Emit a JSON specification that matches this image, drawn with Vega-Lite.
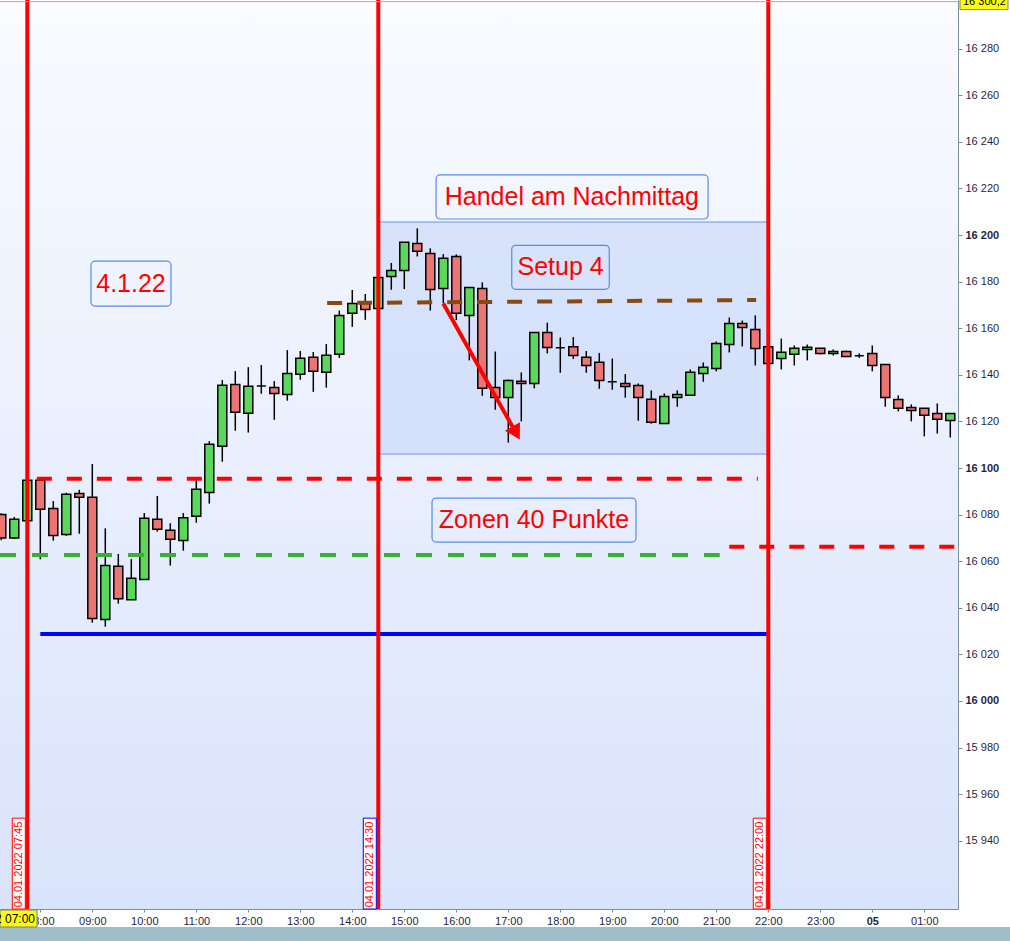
{
  "$schema": "https://vega.github.io/schema/vega-lite/v6.json",
  "description": "DAX 15-minute candles 04.01.2022 with afternoon trading setup annotations",
  "width": 958,
  "height": 909,
  "autosize": {"type": "none"},
  "padding": {"left": 0, "top": 0, "right": 52, "bottom": 32},
  "background": "#ffffff",
  "config": {"view": {"stroke": null}, "font": "Liberation Sans"},
  "resolve": {"axis": {"x": "independent", "y": "independent"}},
  "datasets": {
    "frame": [
      {"t1": "2022-01-04T07:13:30", "t2": "2022-01-05T01:38:54", "p1": 15910.7, "p2": 16300.9}
    ],
    "session": [
      {"t1": "2022-01-04T14:30", "t2": "2022-01-04T22:00", "p1": 16106, "p2": 16205.6}
    ],
    "candles": [
      {"t": "2022-01-04T07:15", "o": 16080, "h": 16080.5, "l": 16069, "c": 16070},
      {"t": "2022-01-04T07:30", "o": 16070, "h": 16079, "l": 16069.5, "c": 16078},
      {"t": "2022-01-04T07:45", "o": 16077.4, "h": 16095.5, "l": 16076.5, "c": 16094.7},
      {"t": "2022-01-04T08:00", "o": 16094.7, "h": 16095.3, "l": 16060.8, "c": 16082.3},
      {"t": "2022-01-04T08:15", "o": 16082.6, "h": 16085.8, "l": 16068.8, "c": 16071},
      {"t": "2022-01-04T08:30", "o": 16071.5, "h": 16089.4, "l": 16070.9, "c": 16088.7},
      {"t": "2022-01-04T08:45", "o": 16089.1, "h": 16090.6, "l": 16071.8, "c": 16087.4},
      {"t": "2022-01-04T09:00", "o": 16087.4, "h": 16101.7, "l": 16033.6, "c": 16035.4},
      {"t": "2022-01-04T09:15", "o": 16035, "h": 16074.1, "l": 16031.9, "c": 16058.2},
      {"t": "2022-01-04T09:30", "o": 16057.8, "h": 16063.1, "l": 16041.8, "c": 16043.9},
      {"t": "2022-01-04T09:45", "o": 16043.5, "h": 16060.9, "l": 16043.5, "c": 16052.7},
      {"t": "2022-01-04T10:00", "o": 16052.1, "h": 16080.7, "l": 16052.1, "c": 16078.4},
      {"t": "2022-01-04T10:15", "o": 16078, "h": 16088, "l": 16072.7, "c": 16073.7},
      {"t": "2022-01-04T10:30", "o": 16073.3, "h": 16076.3, "l": 16058.1, "c": 16069.4},
      {"t": "2022-01-04T10:45", "o": 16068.9, "h": 16080.7, "l": 16064.5, "c": 16078.7},
      {"t": "2022-01-04T11:00", "o": 16079.3, "h": 16096.1, "l": 16076.5, "c": 16090.9},
      {"t": "2022-01-04T11:15", "o": 16089.5, "h": 16111.5, "l": 16084.7, "c": 16110.2},
      {"t": "2022-01-04T11:30", "o": 16109.3, "h": 16137.8, "l": 16102.7, "c": 16135.5},
      {"t": "2022-01-04T11:45", "o": 16135.9, "h": 16141.6, "l": 16116, "c": 16123.9},
      {"t": "2022-01-04T12:00", "o": 16123.5, "h": 16143.3, "l": 16115.2, "c": 16135.1},
      {"t": "2022-01-04T12:15", "o": 16135.2, "h": 16144.2, "l": 16131.9, "c": 16135.2},
      {"t": "2022-01-04T12:30", "o": 16134.6, "h": 16137.3, "l": 16120.7, "c": 16132},
      {"t": "2022-01-04T12:45", "o": 16131.6, "h": 16150.6, "l": 16128.9, "c": 16140.6},
      {"t": "2022-01-04T13:00", "o": 16140.2, "h": 16150.2, "l": 16137.9, "c": 16147.1},
      {"t": "2022-01-04T13:15", "o": 16147.5, "h": 16149.8, "l": 16132.7, "c": 16141.5},
      {"t": "2022-01-04T13:30", "o": 16141.1, "h": 16153.2, "l": 16134.5, "c": 16148.4},
      {"t": "2022-01-04T13:45", "o": 16148.8, "h": 16167.6, "l": 16147.3, "c": 16165.5},
      {"t": "2022-01-04T14:00", "o": 16166.4, "h": 16176.4, "l": 16160.6, "c": 16170.6},
      {"t": "2022-01-04T14:15", "o": 16170.6, "h": 16174.7, "l": 16163.6, "c": 16168},
      {"t": "2022-01-04T14:30", "o": 16168.5, "h": 16182, "l": 16168, "c": 16181.8},
      {"t": "2022-01-04T14:45", "o": 16182.2, "h": 16188, "l": 16176.5, "c": 16184.8},
      {"t": "2022-01-04T15:00", "o": 16184.8, "h": 16196.9, "l": 16176.8, "c": 16196.9},
      {"t": "2022-01-04T15:15", "o": 16196.4, "h": 16202.9, "l": 16190.8, "c": 16193},
      {"t": "2022-01-04T15:30", "o": 16192.1, "h": 16194.3, "l": 16167.6, "c": 16176.6},
      {"t": "2022-01-04T15:45", "o": 16177.1, "h": 16191.8, "l": 16170.7, "c": 16190},
      {"t": "2022-01-04T16:00", "o": 16190.8, "h": 16191.7, "l": 16163.5, "c": 16166.4},
      {"t": "2022-01-04T16:15", "o": 16165.5, "h": 16177.5, "l": 16146.2, "c": 16177.5},
      {"t": "2022-01-04T16:30", "o": 16177.1, "h": 16179.7, "l": 16131, "c": 16134.2},
      {"t": "2022-01-04T16:45", "o": 16134.6, "h": 16150, "l": 16125, "c": 16130.3},
      {"t": "2022-01-04T17:00", "o": 16130.3, "h": 16138, "l": 16110.9, "c": 16137.6},
      {"t": "2022-01-04T17:15", "o": 16137.2, "h": 16141, "l": 16120, "c": 16136.3},
      {"t": "2022-01-04T17:30", "o": 16136.3, "h": 16158.2, "l": 16134.2, "c": 16158.2},
      {"t": "2022-01-04T17:45", "o": 16158.2, "h": 16162.4, "l": 16149.2, "c": 16151.7},
      {"t": "2022-01-04T18:00", "o": 16151.6, "h": 16156, "l": 16140.9, "c": 16151.6},
      {"t": "2022-01-04T18:15", "o": 16152.1, "h": 16156.2, "l": 16146.8, "c": 16148.3},
      {"t": "2022-01-04T18:30", "o": 16147.5, "h": 16150.2, "l": 16140.9, "c": 16144},
      {"t": "2022-01-04T18:45", "o": 16145.4, "h": 16149.4, "l": 16134, "c": 16137.6},
      {"t": "2022-01-04T19:00", "o": 16137, "h": 16147, "l": 16133.6, "c": 16137},
      {"t": "2022-01-04T19:15", "o": 16136.3, "h": 16140.3, "l": 16130.2, "c": 16135},
      {"t": "2022-01-04T19:30", "o": 16135.4, "h": 16136.3, "l": 16120.3, "c": 16130.3},
      {"t": "2022-01-04T19:45", "o": 16129.5, "h": 16133.3, "l": 16119, "c": 16119.6},
      {"t": "2022-01-04T20:00", "o": 16119.1, "h": 16132, "l": 16119.1, "c": 16130.7},
      {"t": "2022-01-04T20:15", "o": 16130.3, "h": 16133.3, "l": 16126.3, "c": 16131.6},
      {"t": "2022-01-04T20:30", "o": 16131.2, "h": 16142.3, "l": 16131.2, "c": 16141.1},
      {"t": "2022-01-04T20:45", "o": 16140.6, "h": 16145.3, "l": 16137, "c": 16143.2},
      {"t": "2022-01-04T21:00", "o": 16142.7, "h": 16154.3, "l": 16141.5, "c": 16153.4},
      {"t": "2022-01-04T21:15", "o": 16153, "h": 16164.6, "l": 16149.6, "c": 16162},
      {"t": "2022-01-04T21:30", "o": 16162, "h": 16163.3, "l": 16152.2, "c": 16160.3},
      {"t": "2022-01-04T21:45", "o": 16159.5, "h": 16165.5, "l": 16144, "c": 16151.3},
      {"t": "2022-01-04T22:00", "o": 16152.1, "h": 16152.1, "l": 16144.9, "c": 16144.9},
      {"t": "2022-01-04T22:15", "o": 16147, "h": 16155.6, "l": 16142.3, "c": 16149.7},
      {"t": "2022-01-04T22:30", "o": 16148.8, "h": 16152.6, "l": 16144, "c": 16151.4},
      {"t": "2022-01-04T22:45", "o": 16150.9, "h": 16153, "l": 16146.2, "c": 16151.8},
      {"t": "2022-01-04T23:00", "o": 16151.4, "h": 16151.4, "l": 16148.8, "c": 16149.2},
      {"t": "2022-01-04T23:15", "o": 16149.2, "h": 16150.9, "l": 16148.3, "c": 16150},
      {"t": "2022-01-04T23:30", "o": 16150, "h": 16150.4, "l": 16147.9, "c": 16147.9},
      {"t": "2022-01-04T23:45", "o": 16148.2, "h": 16149.2, "l": 16147.3, "c": 16148.2},
      {"t": "2022-01-05T00:00", "o": 16149.2, "h": 16152.6, "l": 16141.5, "c": 16144},
      {"t": "2022-01-05T00:15", "o": 16144.4, "h": 16144.4, "l": 16126.3, "c": 16130.3},
      {"t": "2022-01-05T00:30", "o": 16129.4, "h": 16131.2, "l": 16124.3, "c": 16125.6},
      {"t": "2022-01-05T00:45", "o": 16126, "h": 16127.3, "l": 16120, "c": 16124.7},
      {"t": "2022-01-05T01:00", "o": 16125.6, "h": 16125.6, "l": 16113.6, "c": 16122.6},
      {"t": "2022-01-05T01:15", "o": 16123.4, "h": 16127.7, "l": 16114.8, "c": 16120.9},
      {"t": "2022-01-05T01:30", "o": 16120.4, "h": 16123.4, "l": 16113.1, "c": 16123.4}
    ],
    "levels": [
      {"kind": "zone high", "t1": "2022-01-04T07:56", "t2": "2022-01-04T21:48", "p1": 16095.4, "p2": 16095.4},
      {"kind": "zone next", "t1": "2022-01-04T21:15", "t2": "2022-01-05T01:36", "p1": 16066.2, "p2": 16066.2},
      {"kind": "zone low", "t1": "2022-01-04T07:13:30", "t2": "2022-01-04T21:04", "p1": 16062.7, "p2": 16062.7},
      {"kind": "day low", "t1": "2022-01-04T08:00", "t2": "2022-01-04T22:00", "p1": 16028.8, "p2": 16028.8},
      {"kind": "setup", "t1": "2022-01-04T13:31", "t2": "2022-01-04T21:46", "p1": 16170.8, "p2": 16172.1}
    ],
    "times": [
      {"t": "2022-01-04T07:45", "kind": "session"},
      {"t": "2022-01-04T14:30", "kind": "afternoon"},
      {"t": "2022-01-04T22:00", "kind": "session"}
    ],
    "arrow": [
      {"t1": "2022-01-04T15:45", "p1": 16170.6, "t2": "2022-01-04T17:09", "p2": 16115}
    ],
    "notes": [
      {"text": "Handel am Nachmittag", "t1": "2022-01-04T15:36:40", "t2": "2022-01-04T20:50:30", "p1": 16206.9, "p2": 16225.8, "tc": "2022-01-04T18:13:20", "pc": 16216.3},
      {"text": "Setup 4", "t1": "2022-01-04T17:04", "t2": "2022-01-04T18:56:30", "p1": 16176.7, "p2": 16195.6, "tc": "2022-01-04T18:00:20", "pc": 16186.3},
      {"text": "4.1.22", "t1": "2022-01-04T08:58:30", "t2": "2022-01-04T10:30:50", "p1": 16169.5, "p2": 16188.8, "tc": "2022-01-04T09:44:40", "pc": 16179},
      {"text": "Zonen 40 Punkte", "t1": "2022-01-04T15:32", "t2": "2022-01-04T19:27:20", "p1": 16068.2, "p2": 16087.1, "tc": "2022-01-04T17:29:40", "pc": 16077.7}
    ]
  },
  "layer": [
    {
      "data": {"name": "frame"},
      "mark": {
        "type": "rect",
        "fill": {
          "gradient": "linear", "x1": 0, "y1": 0, "x2": 0, "y2": 1,
          "stops": [{"offset": 0, "color": "#f9fbff"}, {"offset": 1, "color": "#d9e3fb"}]
        }
      },
      "encoding": {
        "x": {
          "field": "t1", "type": "temporal",
          "scale": {
            "domain": [
              {"year": 2022, "month": 1, "date": 4, "hours": 7, "minutes": 13, "seconds": 30},
              {"year": 2022, "month": 1, "date": 5, "hours": 1, "minutes": 38, "seconds": 54}
            ],
            "nice": false,
            "padding": 0
          },
          "axis": null
        },
        "x2": {"field": "t2"},
        "y": {
          "field": "p1", "type": "quantitative",
          "scale": {"domain": [15910.7, 16300.9], "zero": false, "nice": false},
          "axis": null
        },
        "y2": {"field": "p2"}
      }
    },
    {
      "data": {"name": "session"},
      "mark": {"type": "rect", "fill": "#c3d3f7", "fillOpacity": 0.55, "stroke": "#6d95e5", "strokeWidth": 1},
      "encoding": {
        "x": {"field": "t1", "type": "temporal", "axis": null},
        "x2": {"field": "t2"},
        "y": {"field": "p1", "type": "quantitative", "axis": null},
        "y2": {"field": "p2"}
      }
    },
    {
      "data": {"name": "candles"},
      "mark": {"type": "rule", "color": "#000000", "strokeWidth": 1.5},
      "encoding": {
        "x": {
          "field": "t", "type": "temporal",
          "axis": {
            "orient": "bottom", "title": null, "grid": false,
            "values": [
              {"year": 2022, "month": 1, "date": 4, "hours": 8},
              {"year": 2022, "month": 1, "date": 4, "hours": 9},
              {"year": 2022, "month": 1, "date": 4, "hours": 10},
              {"year": 2022, "month": 1, "date": 4, "hours": 11},
              {"year": 2022, "month": 1, "date": 4, "hours": 12},
              {"year": 2022, "month": 1, "date": 4, "hours": 13},
              {"year": 2022, "month": 1, "date": 4, "hours": 14},
              {"year": 2022, "month": 1, "date": 4, "hours": 15},
              {"year": 2022, "month": 1, "date": 4, "hours": 16},
              {"year": 2022, "month": 1, "date": 4, "hours": 17},
              {"year": 2022, "month": 1, "date": 4, "hours": 18},
              {"year": 2022, "month": 1, "date": 4, "hours": 19},
              {"year": 2022, "month": 1, "date": 4, "hours": 20},
              {"year": 2022, "month": 1, "date": 4, "hours": 21},
              {"year": 2022, "month": 1, "date": 4, "hours": 22},
              {"year": 2022, "month": 1, "date": 4, "hours": 23},
              {"year": 2022, "month": 1, "date": 5, "hours": 0},
              {"year": 2022, "month": 1, "date": 5, "hours": 1}
            ],
            "format": "%H:%M",
            "labelExpr": "datum.label == '00:00' ? '05' : datum.label",
            "labelFontWeight": {"condition": {"test": "hours(datum.value) === 0", "value": "bold"}, "value": "normal"},
            "domainColor": "#7d8f9b", "tickColor": "#7d8f9b", "tickSize": 3,
            "labelPadding": 3, "labelFont": "Liberation Sans", "labelFontSize": 11, "labelColor": "#1f1f45",
            "labelOverlap": false, "labelFlush": false
          }
        },
        "y": {
          "field": "l", "type": "quantitative",
          "axis": {
            "orient": "right", "title": null, "grid": false,
            "values": [15940, 15960, 15980, 16000, 16020, 16040, 16060, 16080, 16100, 16120, 16140, 16160, 16180, 16200, 16220, 16240, 16260, 16280],
            "format": ",d",
            "labelExpr": "replace(datum.label, ',', ' ')",
            "labelFontWeight": {"condition": {"test": "datum.value % 100 === 0", "value": "bold"}, "value": "normal"},
            "domainColor": "#7d909c", "tickColor": "#7d909c", "tickSize": 4,
            "labelPadding": 3, "labelFont": "Liberation Sans", "labelFontSize": 11, "labelColor": "#1f1f45",
            "labelOverlap": false, "zindex": 1
          }
        },
        "y2": {"field": "h"}
      }
    },
    {
      "data": {"name": "candles"},
      "mark": {"type": "bar", "size": 9, "stroke": "#000000", "strokeWidth": 1.5},
      "encoding": {
        "x": {"field": "t", "type": "temporal", "axis": null},
        "y": {"field": "o", "type": "quantitative", "axis": null},
        "y2": {"field": "c"},
        "fill": {"condition": {"test": "datum.c >= datum.o", "value": "#5bd85b"}, "value": "#ec7474"}
      }
    },
    {
      "data": {"name": "levels"},
      "mark": {"type": "rule", "strokeWidth": 4, "strokeCap": "butt"},
      "encoding": {
        "x": {"field": "t1", "type": "temporal", "axis": null},
        "x2": {"field": "t2"},
        "y": {"field": "p1", "type": "quantitative", "axis": null},
        "y2": {"field": "p2"},
        "color": {
          "field": "kind", "type": "nominal", "legend": null,
          "scale": {
            "domain": ["zone high", "zone next", "zone low", "day low", "setup"],
            "range": ["#ff0000", "#ff0000", "#3cae36", "#0000ff", "#86490f"]
          }
        },
        "strokeDash": {
          "field": "kind", "type": "nominal", "legend": null,
          "scale": {
            "domain": ["zone high", "zone next", "zone low", "day low", "setup"],
            "range": [[15, 15], [15, 15], [16, 16], [1, 0], [15, 15]]
          }
        }
      }
    },
    {
      "data": {"name": "times"},
      "mark": {"type": "rule", "strokeWidth": 4},
      "encoding": {
        "x": {"field": "t", "type": "temporal", "axis": null},
        "color": {
          "field": "kind", "type": "nominal", "legend": null,
          "scale": {"domain": ["session", "afternoon"], "range": ["#ff0000", "#0000ff"]}
        }
      }
    },
    {
      "data": {"name": "times"},
      "mark": {"type": "rect", "fill": "#ffffff", "strokeWidth": 1, "xOffset": -15, "x2Offset": -2},
      "encoding": {
        "x": {"field": "t", "type": "temporal", "axis": null},
        "x2": {"field": "t"},
        "y": {"datum": 15910.7, "axis": null},
        "y2": {"datum": 15949.7},
        "stroke": {
          "field": "kind", "type": "nominal", "legend": null,
          "scale": {"domain": ["session", "afternoon"], "range": ["#ff0000", "#0000ff"]}
        }
      }
    },
    {
      "data": {"name": "times"},
      "mark": {"type": "text", "angle": 270, "align": "center", "baseline": "middle", "fontSize": 11, "xOffset": -8},
      "encoding": {
        "x": {"field": "t", "type": "temporal", "axis": null},
        "y": {"datum": 15929.8, "axis": null},
        "text": {"field": "t", "type": "temporal", "format": "%d.%m.%Y %H:%M"},
        "color": {
          "field": "kind", "type": "nominal", "legend": null,
          "scale": {"domain": ["session", "afternoon"], "range": ["#ff0000", "#0000ff"]}
        }
      }
    },
    {
      "data": {"name": "arrow"},
      "mark": {"type": "rule", "color": "#ff0000", "strokeWidth": 4, "strokeCap": "butt"},
      "encoding": {
        "x": {"field": "t1", "type": "temporal", "axis": null},
        "x2": {"field": "t2"},
        "y": {"field": "p1", "type": "quantitative", "axis": null},
        "y2": {"field": "p2"}
      }
    },
    {
      "data": {"name": "arrow"},
      "mark": {"type": "point", "shape": "triangle-down", "filled": true, "color": "#ff0000", "opacity": 1, "size": 300, "angle": 330.7},
      "encoding": {
        "x": {"field": "t2", "type": "temporal", "axis": null},
        "y": {"field": "p2", "type": "quantitative", "axis": null}
      }
    },
    {
      "data": {"name": "notes"},
      "mark": {"type": "rect", "fillOpacity": 0, "stroke": "#5b8ae6", "strokeWidth": 1.2, "cornerRadius": 4},
      "encoding": {
        "x": {"field": "t1", "type": "temporal", "axis": null},
        "x2": {"field": "t2"},
        "y": {"field": "p1", "type": "quantitative", "axis": null},
        "y2": {"field": "p2"}
      }
    },
    {
      "data": {"name": "notes"},
      "mark": {"type": "text", "color": "#ff0000", "fontSize": 25, "font": "Liberation Sans", "align": "center", "baseline": "middle"},
      "encoding": {
        "x": {"field": "tc", "type": "temporal", "axis": null},
        "y": {"field": "pc", "type": "quantitative", "axis": null},
        "text": {"field": "text"}
      }
    },
    {
      "data": {"name": "frame"},
      "mark": {"type": "rule", "color": "#f29090", "strokeWidth": 1},
      "encoding": {
        "y": {"datum": 16300.2, "axis": null}
      }
    },
    {
      "data": {"name": "frame"},
      "mark": {"type": "rect", "fill": "#a2bdca", "x2Offset": 52, "yOffset": 18, "y2Offset": 32},
      "encoding": {
        "x": {"field": "t1", "type": "temporal", "axis": null},
        "x2": {"field": "t2"},
        "y": {"field": "p1", "type": "quantitative", "axis": null},
        "y2": {"field": "p1"}
      }
    },
    {
      "data": {"name": "frame"},
      "mark": {"type": "rect", "fill": "#ffff00", "stroke": "#7f7f7f", "strokeWidth": 1, "xOffset": 2, "x2Offset": 50, "yOffset": -9, "y2Offset": 8},
      "encoding": {
        "x": {"field": "t2", "type": "temporal", "axis": null},
        "x2": {"field": "t2"},
        "y": {"datum": 16300.2, "axis": null},
        "y2": {"datum": 16300.2}
      }
    },
    {
      "data": {"name": "frame"},
      "mark": {"type": "text", "align": "left", "baseline": "middle", "dx": 5, "fontSize": 11, "color": "#000000"},
      "encoding": {
        "x": {"field": "t2", "type": "temporal", "axis": null},
        "y": {"datum": 16300.2, "axis": null},
        "text": {"value": "16 300,2"}
      }
    },
    {
      "data": {"name": "frame"},
      "mark": {"type": "rect", "fill": "#ffff00", "stroke": "#7f7f7f", "strokeWidth": 1, "x2Offset": 37, "yOffset": 1, "y2Offset": 18},
      "encoding": {
        "x": {"field": "t1", "type": "temporal", "axis": null},
        "x2": {"field": "t1"},
        "y": {"field": "p1", "type": "quantitative", "axis": null},
        "y2": {"field": "p1"}
      }
    },
    {
      "data": {"name": "frame"},
      "mark": {"type": "text", "align": "right", "baseline": "middle", "dx": 35, "dy": 10, "fontSize": 12, "color": "#000000"},
      "encoding": {
        "x": {"field": "t1", "type": "temporal", "axis": null},
        "y": {"field": "p1", "type": "quantitative", "axis": null},
        "text": {"value": "04.01.2022 07:00"}
      }
    }
  ]
}
